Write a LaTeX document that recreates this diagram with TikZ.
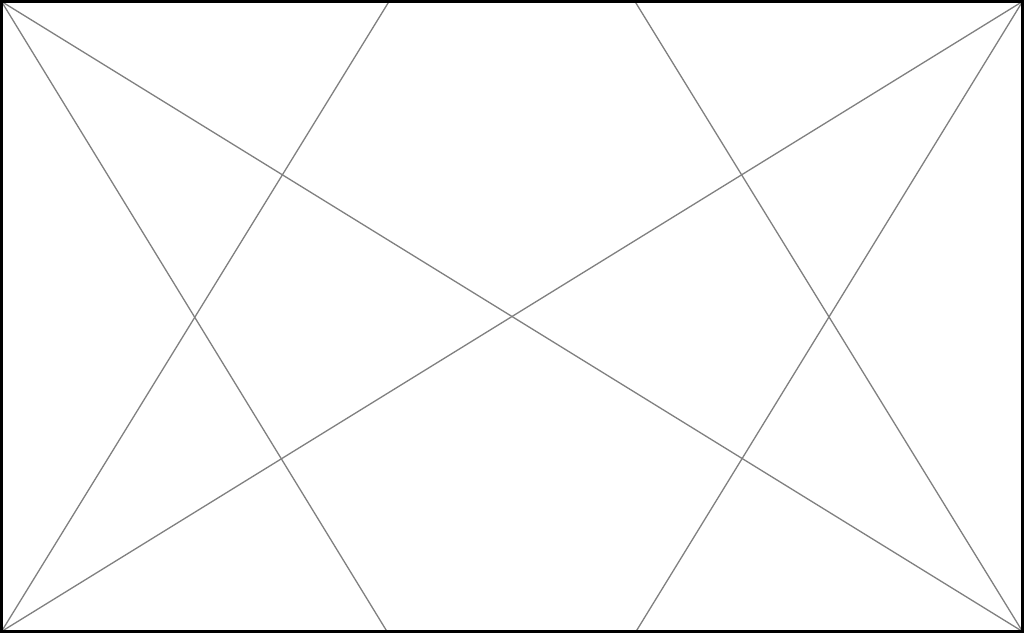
\documentclass[tikz,border=0pt]{standalone}
\begin{document}
\begin{tikzpicture}[x=1pt,y=1pt,
  frame/.style={draw=black,line width=3pt},
  guide/.style={draw=black!50,line width=1.3pt}]
\useasboundingbox (0,0) rectangle (1024,633);
\fill[white] (0,0) rectangle (1024,633);
\coordinate (BL) at (1.5,1.5);
\coordinate (BR) at (1022.5,1.5);
\coordinate (TL) at (1.5,631.5);
\coordinate (TR) at (1022.5,631.5);
\coordinate (T1) at (389,631.5);
\coordinate (T2) at (635,631.5);
\coordinate (B1) at (387,1.5);
\coordinate (B2) at (636,1.5);
\begin{scope}
\clip (0,0) rectangle (1024,633);
\draw[guide] (TL) -- (BR);
\draw[guide] (BL) -- (TR);
\draw[guide] (BL) -- (T1);
\draw[guide] (TL) -- (B1);
\draw[guide] (TR) -- (B2);
\draw[guide] (BR) -- (T2);
\end{scope}
\draw[frame] (BL) rectangle (TR);
\end{tikzpicture}
\end{document}
